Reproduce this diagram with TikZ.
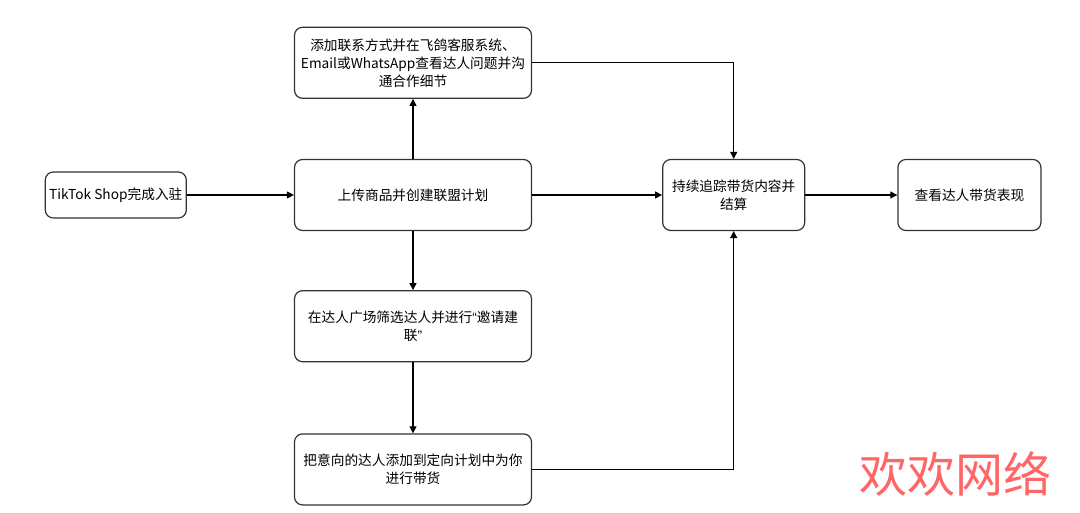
\documentclass[tikz,border=0pt]{standalone}
\usepackage{fontspec}
\setmainfont{Noto Sans CJK SC}
\newfontfamily\latinfont{Liberation Sans}
\newcommand{\openq}{{\latinfont “}}
\newcommand{\closeq}{{\latinfont ”}}
\usetikzlibrary{positioning,arrows.meta}

\begin{document}
\begin{tikzpicture}[x=1pt, y=-1pt, node distance=60pt and 107pt,
  font=\fontsize{13.7pt}{18pt}\selectfont,
  box/.style={draw=black!80, line width=1.2pt, rounded corners=8pt, align=center,
    minimum width=237pt, minimum height=71pt, inner sep=2pt},
  arr/.style={-{Triangle[length=7pt,width=7pt]}, line width=1.1pt}]
\useasboundingbox (0,0) rectangle (1080,513);
\node[box] (upload) at (413,195) {上传商品并创建联盟计划};
\node[box, minimum width=141pt, minimum height=46pt, left=107pt of upload] (shop) {TikTok Shop完成入驻};
\node[box, above=60pt of upload] (contact) {添加联系方式并在飞鸽客服系统、\\Email或WhatsApp查看达人问题并沟\\通合作细节};
\node[box, below=59pt of upload] (invite) {在达人广场筛选达人并进行\openq 邀请建\\联\closeq};
\node[box, below=71pt of invite] (target) {把意向的达人添加到定向计划中为你\\进行带货};
\node[box, minimum width=142pt, right=130pt of upload] (track) {持续追踪带货内容并\\结算};
\node[box, minimum width=143pt, right=92pt of track] (view) {查看达人带货表现};
\node[text=red!60!white, font=\fontsize{48pt}{52pt}\selectfont, anchor=center] (mark) at (955,474) {欢欢网络};
\draw[arr] (shop) -- (upload);
\draw[arr] (upload) -- (contact);
\draw[arr] (upload) -- (track);
\draw[arr] (upload) -- (invite);
\draw[arr] (invite) -- (target);
\draw[arr] (contact.east) -| (track.north);
\draw[arr] (target.east) -| (track.south);
\draw[arr] (track) -- (view);
\end{tikzpicture}
\end{document}
